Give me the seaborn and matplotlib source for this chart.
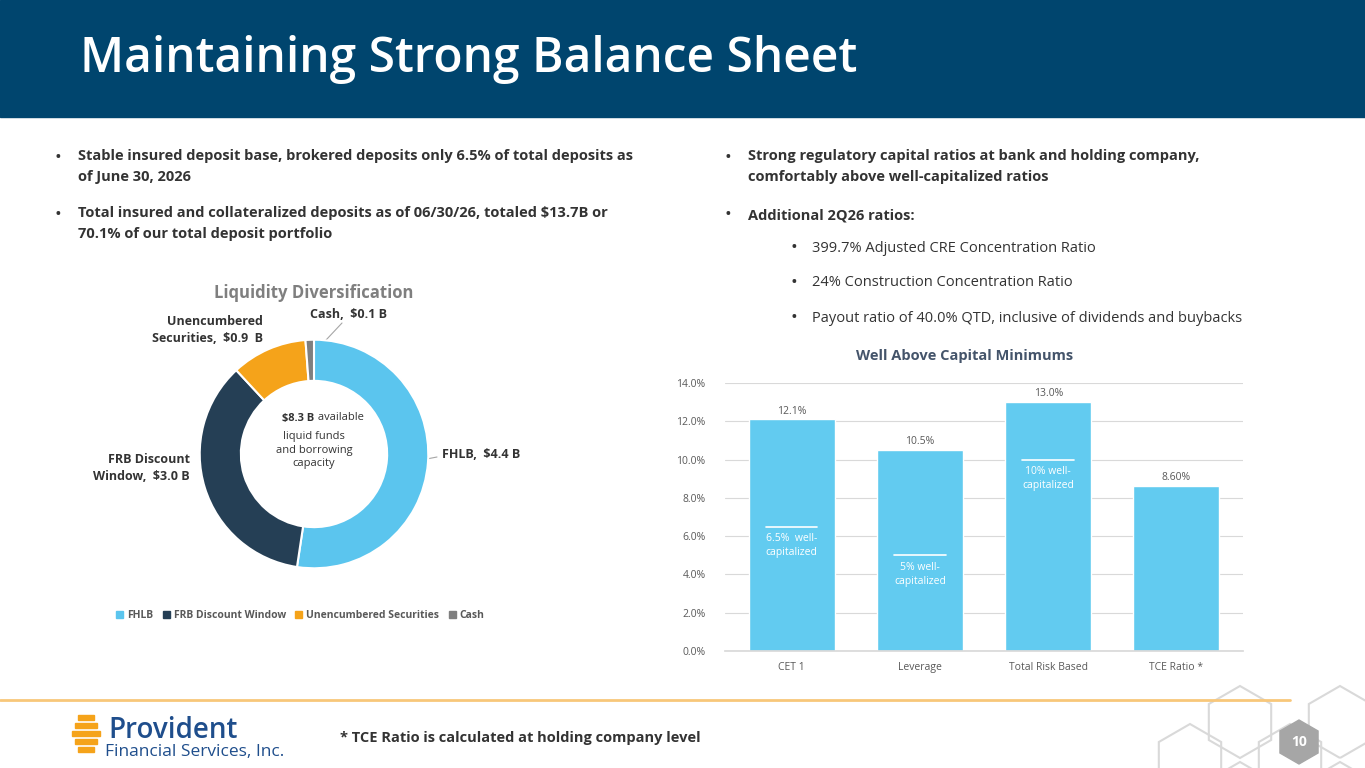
import matplotlib
matplotlib.use("Agg")
import matplotlib.pyplot as plt
import seaborn as sns
import numpy as np
import pandas as pd
from matplotlib.patches import Rectangle, RegularPolygon

sns.set_theme(style="white")
plt.rcParams['font.family'] = ['Open Sans', 'DejaVu Sans']

# Data
pie_labels = ["FHLB", "FRB Discount Window", "Unencumbered Securities", "Cash"]
pie_values = [4.4, 3.0, 0.9, 0.1]
pie_colors = ["#5BC5EE", "#253F55", "#F5A31A", "#7F7F7F"]

bar_cats = ["CET 1", "Leverage", "Total Risk Based", "TCE Ratio *"]
bar_vals = [12.1, 10.5, 13.0, 8.6]
bar_texts = ["12.1%", "10.5%", "13.0%", "8.60%"]
well_cap = [6.5, 5.0, 10.0, None]
well_cap_text = ["6.5%  well-\ncapitalized", "5% well-\ncapitalized", "10% well-\ncapitalized", None]

W, H = 1365, 768
fig = plt.figure(figsize=(13.65, 7.68), dpi=100)
bg = fig.add_axes([0, 0, 1, 1])
bg.set_xlim(0, W); bg.set_ylim(H, 0); bg.axis("off")

def ax_px(x0, y0, x1, y1):
    return fig.add_axes([x0 / W, 1 - y1 / H, (x1 - x0) / W, (y1 - y0) / H])

# Header
bg.add_patch(Rectangle((0, 0), W, 117, color="#00456E"))
bg.text(80, 60, "Maintaining Strong Balance Sheet", color="white", fontsize=34.5,
        fontweight="semibold", va="center", ha="left")

txt = "#333333"
bg.text(55, 158, "•", fontsize=13, color=txt, va="center")
bg.text(78, 149, "Stable insured deposit base, brokered deposits only 6.5% of total deposits as\nof June 30, 2026",
        fontsize=10.5, color=txt, va="top", fontweight="bold", linespacing=1.6)
bg.text(55, 215, "•", fontsize=13, color=txt, va="center")
bg.text(78, 206, "Total insured and collateralized deposits as of 06/30/26, totaled $13.7B or\n70.1% of our total deposit portfolio",
        fontsize=10.5, color=txt, va="top", fontweight="bold", linespacing=1.6)

bg.text(725, 158, "•", fontsize=13, color=txt, va="center")
bg.text(748, 149, "Strong regulatory capital ratios at bank and holding company,\ncomfortably above well-capitalized ratios",
        fontsize=10.5, color=txt, va="top", fontweight="bold", linespacing=1.6)
bg.text(725, 215, "•", fontsize=13, color=txt, va="center")
bg.text(748, 215, "Additional 2Q26 ratios:", fontsize=10.5, color=txt, va="center", fontweight="bold")
for y, s in [(248, "399.7% Adjusted CRE Concentration Ratio"),
             (283, "24% Construction Concentration Ratio"),
             (318, "Payout ratio of 40.0% QTD, inclusive of dividends and buybacks")]:
    bg.text(790, y, "•", fontsize=13, color=txt, va="center")
    bg.text(812, y, s, fontsize=10.5, color=txt, va="center")

# Donut
bg.text(314, 293, "Liquidity Diversification", fontsize=12, color="#7F7F7F",
        fontweight="bold", ha="center", va="center")
pax = ax_px(194, 334, 434, 574)
pax.pie(pie_values, colors=pie_colors, startangle=90, counterclock=False,
        wedgeprops=dict(width=0.36, edgecolor="white", linewidth=1.5), radius=1)
pax.set_xlim(-1.05, 1.05); pax.set_ylim(-1.05, 1.05)
pax.set_aspect("equal")
bg.text(314, 418, "$8.3 B", fontsize=8, fontweight="bold", color=txt, ha="right", va="center")
bg.text(315, 418, " available", fontsize=8, color=txt, ha="left", va="center")
bg.text(314, 450, "liquid funds\nand borrowing\ncapacity", fontsize=8, color=txt, ha="center", va="center", linespacing=1.3)

lab = dict(fontsize=9, fontweight="bold", color=txt)
bg.text(442, 455, "FHLB,  $4.4 B", ha="left", va="center", **lab)
bg.plot([411, 437], [462, 457], color="#A6A6A6", lw=0.8)
bg.text(190, 468, "FRB Discount\nWindow,  $3.0 B", ha="right", va="center", linespacing=1.4, **lab)
bg.plot([201, 223], [466, 478], color="#A6A6A6", lw=0.8)
bg.text(263, 330, "Unencumbered\nSecurities,  $0.9  B", ha="right", va="center", linespacing=1.4, **lab)
bg.text(348, 315, "Cash,  $0.1 B", ha="center", va="center", **lab)
bg.plot([342, 311], [323, 356], color="#A6A6A6", lw=0.8)

# legend
lx = 116
for lbl, c in zip(pie_labels, pie_colors):
    bg.add_patch(Rectangle((lx, 611), 7, 7, color=c))
    bg.text(lx + 11, 615, lbl, fontsize=7.5, color="#595959", va="center", fontweight="bold")
    lx += 11 + len(lbl) * 5.6 + 14

# Bar chart
bg.text(965, 356, "Well Above Capital Minimums", fontsize=10.5, color="#44546A",
        fontweight="bold", ha="center", va="center")
bax = ax_px(725, 383, 1243, 651)
df = pd.DataFrame({"cat": bar_cats, "val": bar_vals})
sns.barplot(data=df, x="cat", y="val", ax=bax, color="#62CBF0", saturation=1, width=0.67)
bax.set_ylim(0, 14)
bax.set_yticks(np.arange(0, 14.1, 2))
bax.set_yticklabels([f"{v:.1f}%" for v in np.arange(0, 14.1, 2)], fontsize=7.5, color="#595959")
bax.tick_params(axis="x", labelsize=7.5, colors="#595959", length=0, pad=8)
bax.tick_params(axis="y", length=0, pad=14)
bax.set_xlabel(""); bax.set_ylabel("")
bax.grid(axis="y", color="#D9D9D9", lw=0.8)
bax.set_axisbelow(True)
for s in ["top", "right", "left"]:
    bax.spines[s].set_visible(False)
bax.spines["bottom"].set_color("#D9D9D9")
for i, (v, t) in enumerate(zip(bar_vals, bar_texts)):
    bax.text(i, v + 0.15, t, ha="center", va="bottom", fontsize=7.5, color="#595959")
    if well_cap[i] is not None:
        bax.plot([i - 0.2, i + 0.2], [well_cap[i], well_cap[i]], color="white", lw=1.2)
        bax.text(i, well_cap[i] - 0.35, well_cap_text[i], ha="center", va="top",
                 fontsize=7.5, color="white", linespacing=1.4)

# Footer
bg.plot([0, 1290], [700, 700], color="#F8C77A", lw=2)
bg.text(340, 738, "* TCE Ratio is calculated at holding company level", fontsize=10.5,
        fontweight="bold", color=txt, va="center")
bg.text(108, 730, "Provident", fontsize=20, color="#1F4E8C", va="center", fontweight="semibold")
bg.text(105, 752, "Financial Services, Inc.", fontsize=12.5, color="#1F4E8C", va="center")
for k, yy in enumerate([718, 726, 734, 742, 750]):
    bg.add_patch(Rectangle((72 + abs(k - 2) * 3, yy - 3), 28 - abs(k - 2) * 6, 5, color="#F5A31A"))
for (cx, cy) in [(1340, 722), (1290, 760), (1340, 798), (1190, 760), (1240, 722), (1240, 798)]:
    bg.add_patch(RegularPolygon((cx, cy), 6, radius=36, fill=False, ec="#D9D9D9", lw=1.5))
bg.add_patch(RegularPolygon((1299, 742), 6, radius=22, color="#A6A6A6"))
bg.text(1299, 742, "10", fontsize=10, color="white", fontweight="bold", ha="center", va="center")

fig.savefig("out.png", dpi=100)
